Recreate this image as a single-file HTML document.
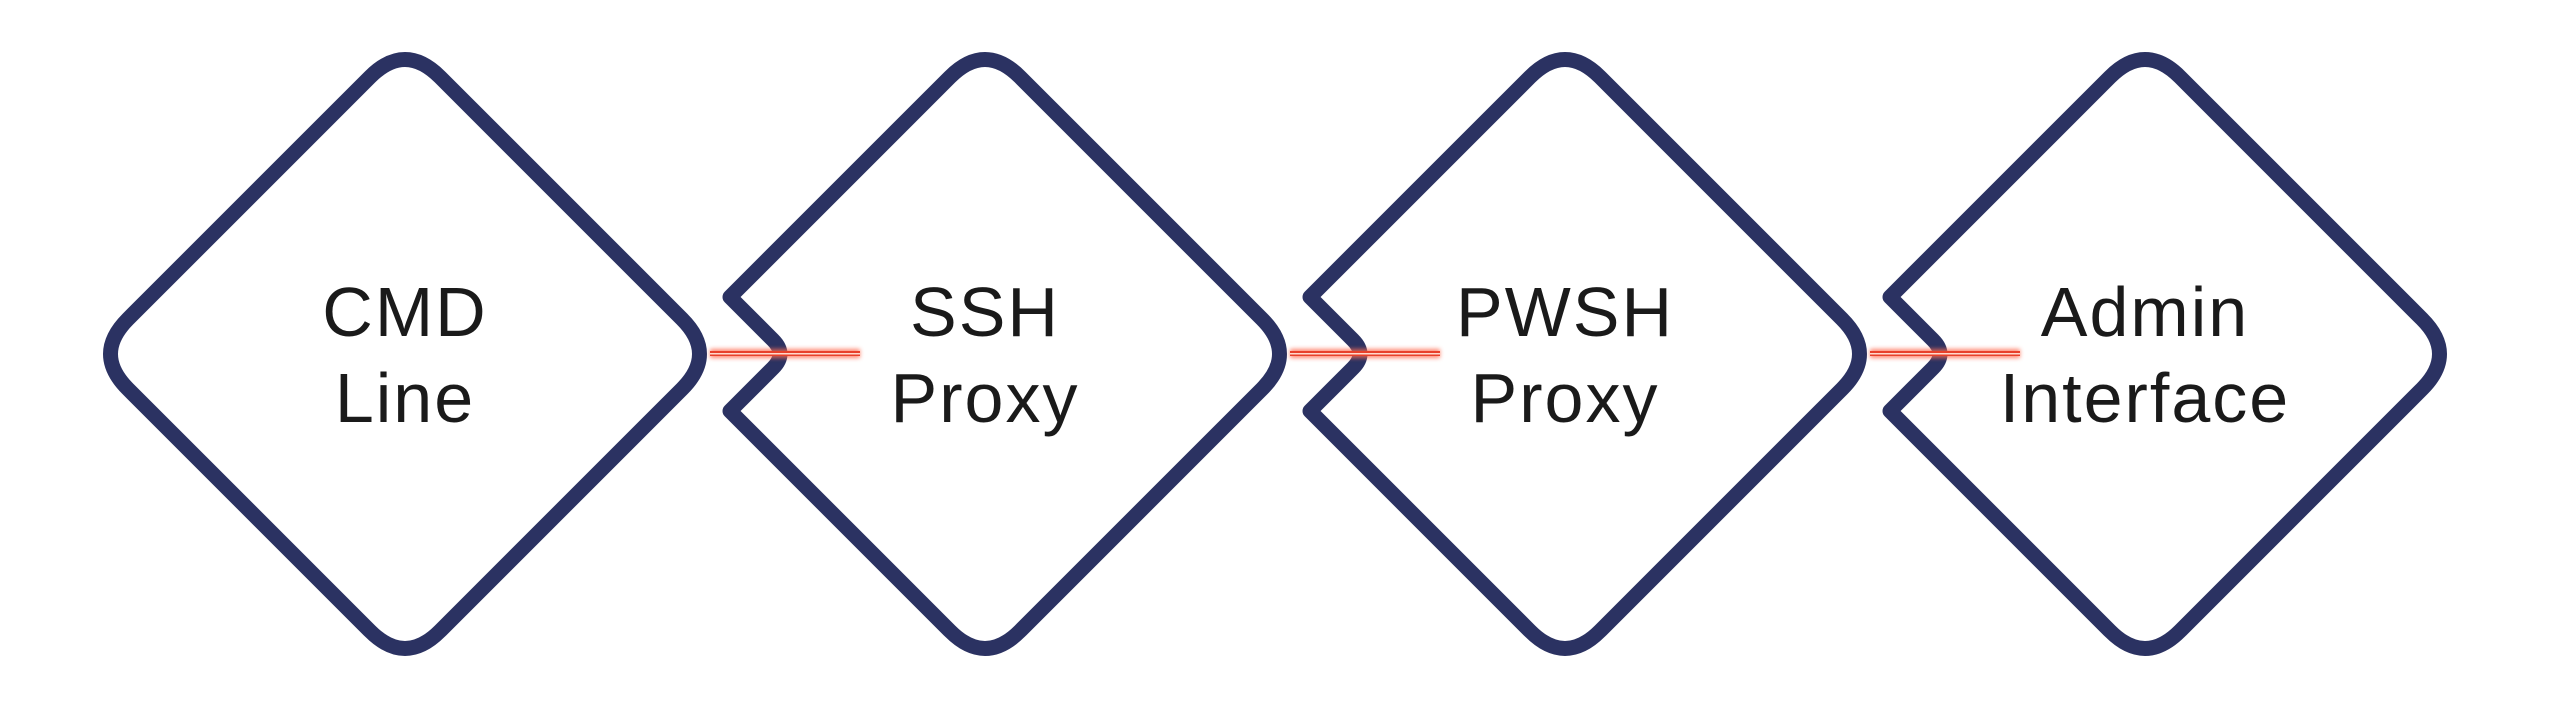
<!DOCTYPE html>
<html><head><meta charset="utf-8"><style>
html,body{margin:0;padding:0;background:#fff;}
svg{display:block}
text{font-family:"Liberation Sans",sans-serif;font-size:70px;fill:#1a1a1a;letter-spacing:2px;text-anchor:middle}
</style></head><body>
<svg width="2560" height="710" viewBox="0 0 2560 710" xmlns="http://www.w3.org/2000/svg">
<defs>
<filter id="glow" x="-20%" y="-300%" width="140%" height="700%"><feGaussianBlur stdDeviation="2"/></filter>
</defs>
<g fill="none" stroke="#2b3262" stroke-width="15" stroke-linejoin="round">
<path d="M370,77 Q405,42 440,77 L682,319 Q717,354 682,389 L440,631 Q405,666 370,631 L128,389 Q93,354 128,319 Z"/>
<g transform="translate(985,0)"><path d="M-35,77 Q0,42 35,77 L277,319 Q312,354 277,389 L35,631 Q0,666 -35,631 L-255,411 L-212,368 Q-198,354 -212,340 L-255,297 Z"/></g>
<g transform="translate(1565,0)"><path d="M-35,77 Q0,42 35,77 L277,319 Q312,354 277,389 L35,631 Q0,666 -35,631 L-255,411 L-212,368 Q-198,354 -212,340 L-255,297 Z"/></g>
<g transform="translate(2145,0)"><path d="M-35,77 Q0,42 35,77 L277,319 Q312,354 277,389 L35,631 Q0,666 -35,631 L-255,411 L-212,368 Q-198,354 -212,340 L-255,297 Z"/></g>
</g>
<g>
<rect x="710" y="349" width="150" height="9" fill="#ff6a50" filter="url(#glow)" opacity="0.8"/>
<rect x="710" y="351" width="150" height="5" fill="#e8402a"/>
<rect x="710" y="353" width="150" height="1.5" fill="#ffd8cc"/>
<rect x="1290" y="349" width="150" height="9" fill="#ff6a50" filter="url(#glow)" opacity="0.8"/>
<rect x="1290" y="351" width="150" height="5" fill="#e8402a"/>
<rect x="1290" y="353" width="150" height="1.5" fill="#ffd8cc"/>
<rect x="1870" y="349" width="150" height="9" fill="#ff6a50" filter="url(#glow)" opacity="0.8"/>
<rect x="1870" y="351" width="150" height="5" fill="#e8402a"/>
<rect x="1870" y="353" width="150" height="1.5" fill="#ffd8cc"/>
</g>
<text x="405" y="336">CMD</text><text x="405" y="422">Line</text>
<text x="985" y="336">SSH</text><text x="985" y="422">Proxy</text>
<text x="1565" y="336">PWSH</text><text x="1565" y="422">Proxy</text>
<text x="2145" y="336">Admin</text><text x="2145" y="422">Interface</text>
</svg>
</body></html>
